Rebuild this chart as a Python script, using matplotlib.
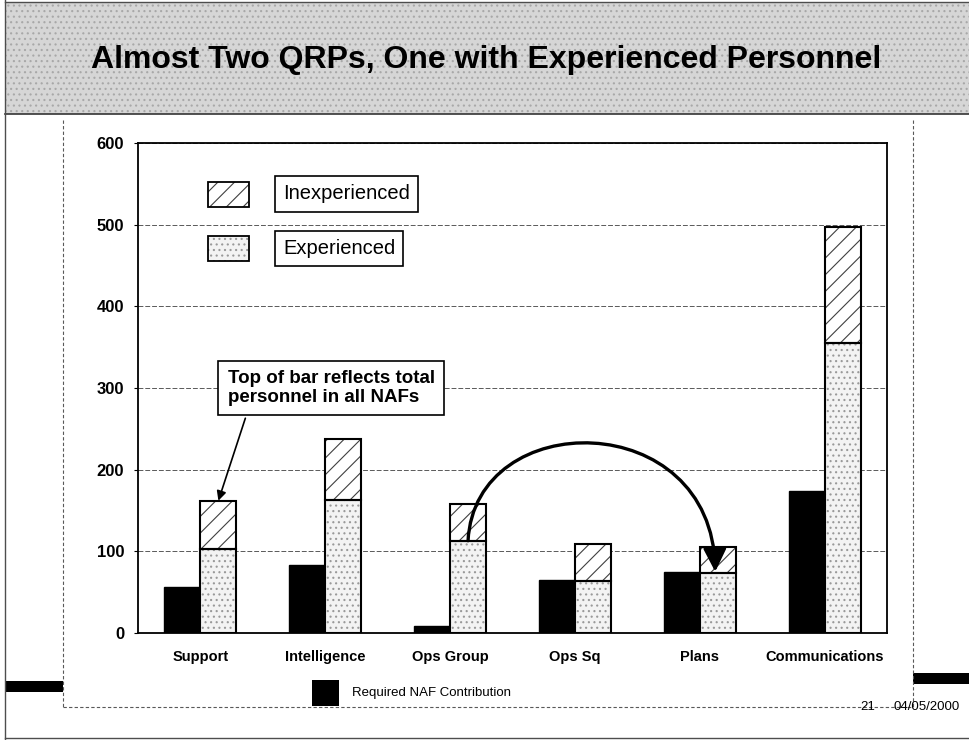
import numpy as np
import matplotlib
matplotlib.use('Agg')
import matplotlib.pyplot as plt
from matplotlib.patches import Rectangle, FancyArrowPatch
from matplotlib.path import Path
from matplotlib.lines import Line2D

plt.rcParams['font.family'] = ['Liberation Sans', 'DejaVu Sans']
plt.rcParams['hatch.linewidth'] = 0.8

# data
categories = ['Support', 'Intelligence', 'Ops Group', 'Ops Sq', 'Plans', 'Communications']
required = [56, 83, 8, 65, 75, 174]
experienced = [103, 163, 113, 64, 74, 355]
inexperienced = [59, 74, 45, 45, 31, 142]
yticks = [0, 100, 200, 300, 400, 500, 600]

W, H = 969, 740
fig = plt.figure(figsize=(W / 100, H / 100), dpi=100)


def fx(px):
    return px / W


def fy(py):
    return 1 - py / H


# slide decoration
fig.add_artist(Rectangle((fx(5), fy(114)), (W - 5) / W, 112 / H, transform=fig.transFigure,
                         facecolor='#d6d6d6', edgecolor='#a8a8a8', hatch='...', lw=0, zorder=0))
fig.add_artist(Line2D([fx(5), fx(969)], [fy(114), fy(114)], color='0.2', lw=1.2))
fig.add_artist(Line2D([fx(5), fx(969)], [fy(2), fy(2)], color='0.3', lw=1))
fig.add_artist(Line2D([fx(5), fx(5)], [fy(0), fy(740)], color='0.3', lw=1))
fig.add_artist(Line2D([fx(5), fx(969)], [fy(738), fy(738)], color='0.3', lw=1))
frame_style = dict(color='0.35', lw=0.8, ls=(0, (3, 2)))
fig.add_artist(Line2D([fx(63), fx(63)], [fy(120), fy(707)], **frame_style))
fig.add_artist(Line2D([fx(63), fx(913)], [fy(707), fy(707)], **frame_style))
fig.add_artist(Line2D([fx(913), fx(913)], [fy(120), fy(707)], **frame_style))
fig.add_artist(Rectangle((fx(5), fy(692)), 58 / W, 11 / H, transform=fig.transFigure,
                         facecolor='black', lw=0))
fig.add_artist(Rectangle((fx(913), fy(684)), 56 / W, 11 / H, transform=fig.transFigure,
                         facecolor='black', lw=0))
fig.add_artist(Rectangle((fx(312), fy(706)), 27 / W, 26 / H, transform=fig.transFigure,
                         facecolor='black', lw=0))
fig.text(fx(352), fy(693), 'Required NAF Contribution', fontsize=9.5, va='center', ha='left')
fig.text(fx(860), fy(707), '21', fontsize=9.5, va='center', ha='left')
fig.text(fx(893), fy(707), '04/05/2000', fontsize=9.5, va='center', ha='left')

fig.text(fx(486), fy(68), 'Almost Two QRPs, One with Experienced Personnel',
         ha='center', va='baseline', fontsize=23, fontweight='bold')

# chart
ax = fig.add_axes([fx(138), fy(633), (887 - 138) / W, (633 - 143) / H])
x = np.arange(len(categories))
w = 0.288

ax.bar(x - w / 2, required, w, color='black', edgecolor='black', lw=1, zorder=3)
ax.bar(x + w / 2, experienced, w, color='#f3f3f3', edgecolor='0.6', hatch='...', lw=0, zorder=3)
ax.bar(x + w / 2, inexperienced, w, bottom=experienced, color='white', edgecolor='0.25',
       hatch='//', lw=0, zorder=3)
ax.bar(x + w / 2, experienced, w, fill=False, edgecolor='black', lw=1.5, zorder=4)
ax.bar(x + w / 2, inexperienced, w, bottom=experienced, fill=False, edgecolor='black', lw=1.5, zorder=4)

ax.set_xlim(-0.5, len(categories) - 0.5)
ax.set_ylim(0, 600)
ax.set_yticks(yticks)
ax.set_yticklabels([str(v) for v in yticks], fontsize=12, fontweight='bold')
ax.set_xticks(x)
ax.set_xticklabels(categories, fontsize=10.5, fontweight='bold')
ax.tick_params(axis='y', length=3, pad=7)
ax.tick_params(axis='x', length=0, pad=12)
ax.grid(axis='y', color='0.35', lw=0.7, ls=(0, (5, 2)), zorder=1)
ax.set_axisbelow(True)
for s in ax.spines.values():
    s.set_linewidth(1.3)

# legend swatches and labels
ax.add_patch(Rectangle((0.0935, 0.869), 0.0547, 0.051, transform=ax.transAxes, facecolor='white',
                       edgecolor='0.25', hatch='//', lw=0, zorder=5))
ax.add_patch(Rectangle((0.0935, 0.869), 0.0547, 0.051, transform=ax.transAxes, fill=False,
                       edgecolor='black', lw=1.3, zorder=6))
ax.add_patch(Rectangle((0.0935, 0.759), 0.0547, 0.051, transform=ax.transAxes, facecolor='#f3f3f3',
                       edgecolor='0.6', hatch='...', lw=0, zorder=5))
ax.add_patch(Rectangle((0.0935, 0.759), 0.0547, 0.051, transform=ax.transAxes, fill=False,
                       edgecolor='black', lw=1.3, zorder=6))
box = dict(boxstyle='square,pad=0.4', fc='white', ec='black', lw=1.2)
ax.text(0.1936, 0.896, 'Inexperienced', transform=ax.transAxes, fontsize=14.5,
        va='center', ha='left', bbox=box, zorder=6)
ax.text(0.1936, 0.785, 'Experienced', transform=ax.transAxes, fontsize=14.5,
        va='center', ha='left', bbox=box, zorder=6)

# callout
ax.text(1.048, 300, 'Top of bar reflects total\npersonnel in all NAFs', ha='center', va='center',
        multialignment='left', fontsize=13.5, fontweight='bold', linespacing=1.15,
        bbox=dict(boxstyle='square,pad=0.5', fc='white', ec='black', lw=1.2), zorder=6)
ax.annotate('', xy=(w / 2, experienced[0] + inexperienced[0]), xytext=(0.36, 263),
            arrowprops=dict(arrowstyle='-|>', color='black', lw=1.2, mutation_scale=14,
                            shrinkA=0, shrinkB=0), zorder=6)

# curved arrow Ops Group -> Plans
p0 = (2 + w / 2, experienced[2])
p3 = (4 + w / 2 - 0.02, experienced[4] + 1)
arc = Path([p0, (2.20, 278), (4.10, 278), p3],
           [Path.MOVETO, Path.CURVE4, Path.CURVE4, Path.CURVE4])
ax.add_patch(FancyArrowPatch(path=arc, arrowstyle='-|>,head_length=0.7,head_width=0.35',
                             mutation_scale=20, color='black', lw=2.4, zorder=7))

fig.savefig('out.png', dpi=100)
